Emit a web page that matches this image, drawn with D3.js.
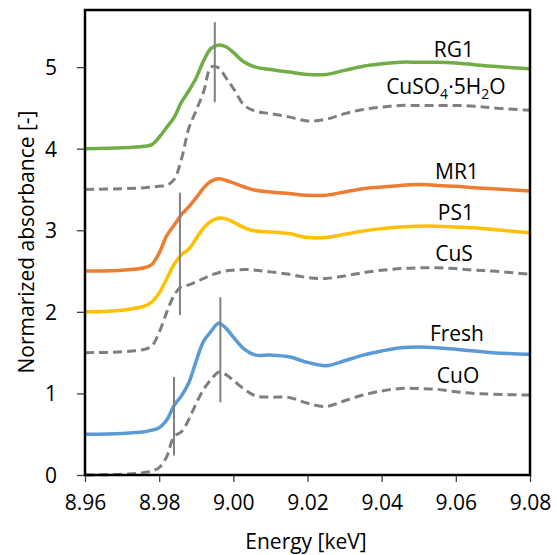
<!DOCTYPE html>
<html>
<head>
<meta charset="utf-8">
<script src="https://cdn.jsdelivr.net/npm/d3@7"></script>
<style>
  html, body { margin: 0; padding: 0; background: #fff; }
  svg text { font-family: "Open Sans", Lato, sans-serif; fill: #000; }
</style>
</head>
<body>
<svg id="chart" width="557" height="555"></svg>
<script>
// Cu K-edge XANES spectra (normalized, offset for clarity)
const energy = [8.960, 8.970, 8.976, 8.978, 8.980, 8.982, 8.984, 8.986, 8.988, 8.990,
                8.992, 8.994, 8.996, 8.998, 9.000, 9.003, 9.006, 9.010, 9.015, 9.020,
                9.025, 9.030, 9.035, 9.040, 9.045, 9.050, 9.055, 9.060, 9.065, 9.070, 9.080];

const rg1   = [4.00, 4.01, 4.03, 4.05, 4.14, 4.26, 4.38, 4.57, 4.71, 4.87,
               5.08, 5.23, 5.27, 5.25, 5.18, 5.06, 5.00, 4.97, 4.94, 4.91,
               4.91, 4.96, 5.01, 5.04, 5.06, 5.06, 5.06, 5.05, 5.03, 5.01, 4.98];
const cuso4 = [3.50, 3.51, 3.52, 3.53, 3.54, 3.55, 3.62, 3.87, 4.25, 4.47,
               4.70, 5.00, 4.99, 4.87, 4.74, 4.53, 4.46, 4.43, 4.39, 4.34,
               4.36, 4.43, 4.48, 4.51, 4.53, 4.53, 4.53, 4.53, 4.52, 4.50, 4.47];
const mr1   = [2.50, 2.51, 2.54, 2.58, 2.72, 2.93, 3.06, 3.19, 3.29, 3.40,
               3.52, 3.60, 3.63, 3.61, 3.58, 3.53, 3.49, 3.47, 3.45, 3.43,
               3.43, 3.47, 3.51, 3.53, 3.55, 3.56, 3.55, 3.54, 3.52, 3.51, 3.48];
const ps1   = [2.00, 2.02, 2.07, 2.12, 2.23, 2.40, 2.58, 2.70, 2.77, 2.90,
               3.03, 3.11, 3.15, 3.14, 3.10, 3.03, 2.99, 2.98, 2.96, 2.91,
               2.91, 2.95, 2.99, 3.02, 3.04, 3.05, 3.05, 3.04, 3.03, 3.01, 2.97];
const cus   = [1.50, 1.51, 1.54, 1.58, 1.75, 1.99, 2.20, 2.31, 2.33, 2.37,
               2.41, 2.45, 2.48, 2.50, 2.51, 2.52, 2.51, 2.49, 2.46, 2.42,
               2.41, 2.44, 2.48, 2.51, 2.53, 2.54, 2.54, 2.53, 2.51, 2.50, 2.46];
const fresh = [0.50, 0.51, 0.53, 0.55, 0.58, 0.67, 0.85, 0.97, 1.13, 1.40,
               1.64, 1.76, 1.86, 1.80, 1.69, 1.54, 1.47, 1.47, 1.45, 1.38,
               1.34, 1.40, 1.47, 1.52, 1.56, 1.57, 1.56, 1.54, 1.52, 1.50, 1.48];
const cuo   = [0.00, 0.01, 0.03, 0.05, 0.09, 0.22, 0.47, 0.53, 0.68, 0.88,
               1.05, 1.17, 1.26, 1.23, 1.16, 1.05, 0.97, 0.955, 0.95, 0.88,
               0.84, 0.91, 0.98, 1.03, 1.06, 1.06, 1.05, 1.02, 1.00, 0.99, 0.98];

// series names, label anchor (energy, absorbance)
const seriesNames  = ["CuSO4·5H2O", "CuS", "CuO", "RG1", "MR1", "PS1", "Fresh"];
const seriesValues = [cuso4, cus, cuo, rg1, mr1, ps1, fresh];
const seriesDashed = [true, true, true, false, false, false, false];
const seriesColors = ["#7f7f7f", "#7f7f7f", "#7f7f7f", "#70ad47", "#ed7d31", "#ffc000", "#5b9bd5"];
const labelEnergy  = [9.0573, 9.0595, 9.0606, 9.0595, 9.0603, 9.0600, 9.0603];
const labelValue   = [4.67, 2.62, 1.13, 5.13, 3.63, 3.12, 1.64];

// vertical reference lines (edge / peak positions)
const markerEnergy = [8.9950, 8.9856, 8.9965, 8.9840];
const markerTop    = [5.55, 3.46, 2.18, 1.20];
const markerBottom = [4.57, 1.96, 0.89, 0.24];

const xTicks = [8.96, 8.98, 9.00, 9.02, 9.04, 9.06, 9.08];
const yTicks = [0, 1, 2, 3, 4, 5];

const fontSize = "21px";

const svg = d3.select("#chart");
const x = d3.scaleLinear().domain([8.96, 9.08]).range([85, 530]);
const y = d3.scaleLinear().domain([0, 5.7]).range([475, 10]);

// axes
const xAxis = d3.axisBottom(x).tickValues(xTicks).tickFormat(d3.format(".2f"))
  .tickSizeInner(7).tickSizeOuter(0).tickPadding(15);
const yAxis = d3.axisLeft(y).tickValues(yTicks).tickFormat(d3.format("d"))
  .tickSizeInner(8).tickSizeOuter(0).tickPadding(20);

const gx = svg.append("g").attr("transform", "translate(0,475)").call(xAxis);
const gy = svg.append("g").attr("transform", "translate(85,0)").call(yAxis);
[gx, gy].forEach(g => {
  g.select(".domain").remove();
  g.selectAll(".tick line").attr("stroke", "#404040").attr("stroke-width", 1.3);
  g.selectAll(".tick text").style("font-size", fontSize).attr("fill", "#000");
});
gx.selectAll(".tick text").attr("dy", "0.62em");
gy.selectAll(".tick text").attr("dy", "0.36em");

// curves
const line = d3.line()
  .x((d, i) => x(energy[i]))
  .y(d => y(d))
  .curve(d3.curveCatmullRom.alpha(0.5));

const plot = svg.append("g");
seriesValues.forEach((vals, k) => {
  plot.append("path")
    .attr("d", line(vals))
    .attr("fill", "none")
    .attr("stroke", seriesColors[k])
    .attr("stroke-width", seriesDashed[k] ? 3 : 3.5)
    .attr("stroke-dasharray", seriesDashed[k] ? "9 5" : null)
    .attr("stroke-linejoin", "round");
});

// reference lines
markerEnergy.forEach((e, i) => {
  plot.append("line")
    .attr("x1", x(e)).attr("x2", x(e))
    .attr("y1", y(markerTop[i])).attr("y2", y(markerBottom[i]))
    .attr("stroke", "#808080").attr("stroke-width", 2);
});

// series labels
seriesNames.forEach((name, k) => {
  const t = svg.append("text")
    .attr("x", x(labelEnergy[k])).attr("y", y(labelValue[k]))
    .attr("text-anchor", "middle")
    .style("font-size", fontSize);
  if (name === "CuSO4·5H2O") {
    t.append("tspan").text("CuSO");
    t.append("tspan").text("4").attr("dy", 5).style("font-size", "14px");
    t.append("tspan").text("·5H").attr("dy", -5);
    t.append("tspan").text("2").attr("dy", 5).style("font-size", "14px");
    t.append("tspan").text("O").attr("dy", -5);
  } else {
    t.text(name);
  }
});

// plot frame
svg.append("rect")
  .attr("x", 85).attr("y", 10)
  .attr("width", 445).attr("height", 465)
  .attr("fill", "none").attr("stroke", "#000").attr("stroke-width", 2.5);

// axis titles
svg.append("text")
  .attr("x", 306).attr("y", 549)
  .attr("text-anchor", "middle")
  .style("font-size", fontSize)
  .text("Energy [keV]");
svg.append("text")
  .attr("transform", "translate(34,242) rotate(-90)")
  .attr("text-anchor", "middle")
  .style("font-size", fontSize)
  .text("Normarized absorbance [-]");
</script>
</body>
</html>
